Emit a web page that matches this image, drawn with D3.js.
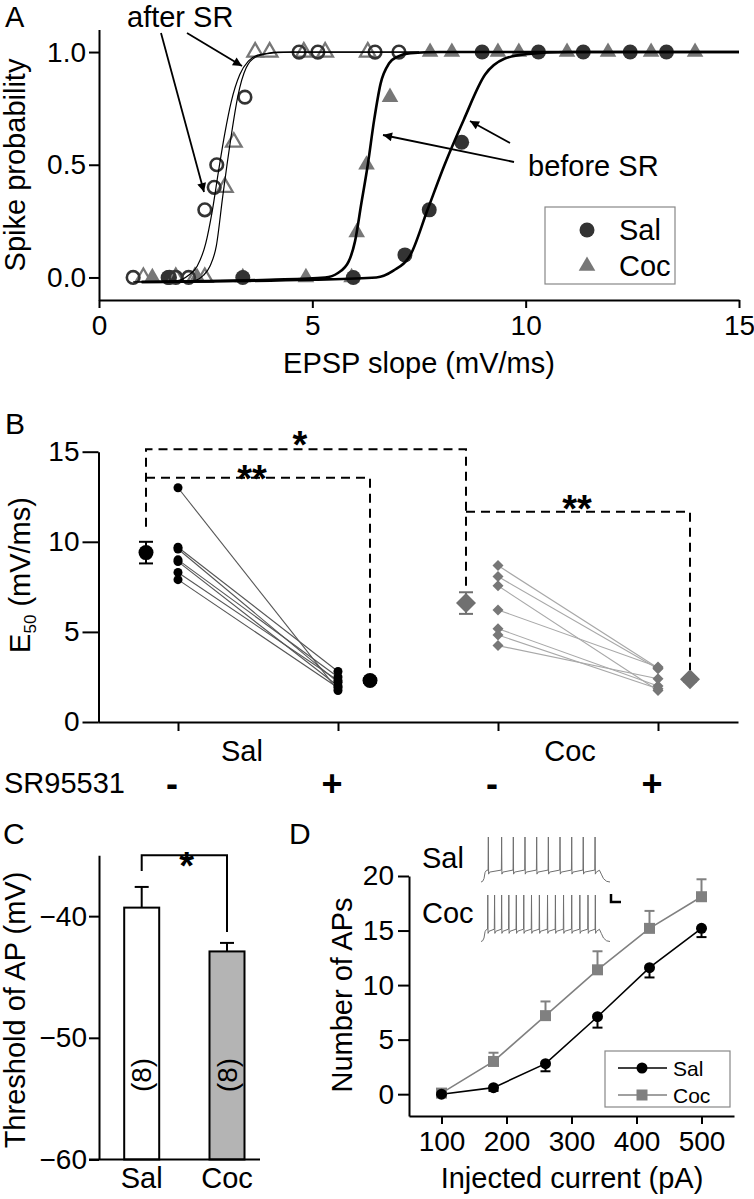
<!DOCTYPE html>
<html><head><meta charset="utf-8">
<script src="https://cdn.jsdelivr.net/npm/d3@7"></script>
<style>body{margin:0;background:#fff}</style>
</head><body>
<svg id="fig" width="754" height="1199"></svg>
<script>
// ---------------- DATA ----------------
// Panel A: spike probability vs EPSP slope
const salBeforeX = [1.62, 3.37, 5.96, 7.17, 7.74, 8.5, 8.98, 10.3, 11.35, 12.45, 13.3];
const salBeforeY = [0, 0, 0, 0.1, 0.3, 0.6, 1, 1, 1, 1, 1];
const cocBeforeX = [1.25, 2.3, 3.37, 4.85, 5.92, 6.04, 6.27, 6.82, 7.76, 8.27, 9.35, 9.84, 10.97, 11.93, 12.94, 13.97];
const cocBeforeY = [0, 0, 0, 0, 0, 0.2, 0.5, 0.8, 1, 1, 1, 1, 1, 1, 1, 1];
const salAfterX = [0.8, 1.65, 1.8, 2.1, 2.48, 2.7, 2.76, 3.42, 4.69, 5.13, 6.47, 7.03];
const salAfterY = [0, 0, 0, 0, 0.3, 0.4, 0.5, 0.8, 1, 1, 1, 1];
const cocAfterX = [1.04, 1.8, 2.25, 2.48, 2.95, 3.16, 3.66, 4.0, 4.8, 5.3, 6.3];
const cocAfterY = [0, 0, 0, 0, 0.4, 0.6, 1, 1, 1, 1, 1];
// fitted curves
const fitSalAfterX = [0.8, 1.8, 2.1, 2.3, 2.5, 2.65, 2.8, 2.95, 3.1, 3.3, 3.5, 3.8, 4.5, 7.5];
const fitSalAfterY = [-0.02, -0.015, 0.01, 0.05, 0.15, 0.29, 0.47, 0.64, 0.78, 0.9, 0.96, 0.99, 1.0, 1.0];
const fitCocAfterX = [1.0, 2.2, 2.45, 2.6, 2.75, 2.9, 3.0, 3.1, 3.25, 3.45, 3.7, 4.2, 7.5];
const fitCocAfterY = [-0.02, -0.015, 0.01, 0.05, 0.14, 0.36, 0.5, 0.63, 0.8, 0.93, 0.98, 1.0, 1.0];
const fitCocBeforeX = [1.0, 4.0, 5.3, 5.6, 5.85, 6.0, 6.15, 6.3, 6.45, 6.6, 6.8, 7.0, 7.3, 8.0, 15];
const fitCocBeforeY = [-0.02, -0.01, 0.0, 0.02, 0.07, 0.16, 0.33, 0.5, 0.7, 0.86, 0.95, 0.98, 0.995, 1.0, 1.0];
const fitSalBeforeX = [1.0, 5.0, 6.5, 6.9, 7.3, 7.7, 8.1, 8.55, 9.05, 9.5, 10.0, 11.0, 15];
const fitSalBeforeY = [-0.02, -0.01, 0.0, 0.03, 0.1, 0.3, 0.5, 0.7, 0.9, 0.97, 0.99, 1.0, 1.0];
const ticksAX = [0, 5, 10, 15];
const ticksAY = [0, 0.5, 1.0];

// Panel B: E50 per cell before/after SR95531
const salBeforeB = [13.0, 9.7, 9.6, 9.0, 8.9, 8.3, 7.9];
const salAfterB  = [1.75, 2.8, 2.2, 2.5, 2.0, 2.3, 1.9];
const cocBeforeB = [8.68, 8.07, 7.56, 6.22, 5.18, 4.83, 4.24];
const cocAfterB  = [3.0, 2.95, 1.75, 3.05, 2.0, 1.85, 2.4];
const meanB = [9.4, 2.3, 6.6, 2.37];
const semB  = [0.6, 0.12, 0.6, 0.12];
const groupB = ["Sal", "Coc"];
const drugB = ["-", "+", "-", "+"];
const ticksBY = [0, 5, 10, 15];

// Panel C: AP threshold
const groupsC = ["Sal", "Coc"];
const thrC = [-39.3, -42.9];
const thrSemC = [1.7, 0.7];
const nC = [8, 8];
const ticksCY = [-60, -50, -40];

// Panel D: number of APs vs injected current
const currentD = [100, 180, 260, 340, 420, 500];
const salD = [0.0, 0.6, 2.8, 7.1, 11.6, 15.2];
const salSemD = [0.1, 0.3, 0.7, 1.0, 0.9, 0.8];
const cocD = [0.1, 3.0, 7.2, 11.4, 15.2, 18.1];
const cocSemD = [0.2, 0.8, 1.3, 1.7, 1.6, 1.6];
const ticksDX = [100, 200, 300, 400, 500];
const ticksDY = [0, 5, 10, 15, 20];
// inset example traces: spike times (ms)
const salSpikes = [54, 152, 238, 324, 410, 496, 582, 668, 753, 840];
const cocSpikes = [50, 100, 152, 205, 260, 315, 372, 430, 490, 548, 608, 668, 728, 788, 842];

// ---------------- DRAW ----------------
const F = '"Liberation Sans", Arial, Helvetica, sans-serif';
const FS = 28;   // tick labels / general text
const FT = 29;   // axis titles
const svg = d3.select("#fig");
const defs = svg.append("defs");
defs.append("marker").attr("id", "arr").attr("viewBox", "0 0 10 10")
  .attr("refX", 10).attr("refY", 5).attr("markerWidth", 11).attr("markerHeight", 9)
  .attr("markerUnits", "userSpaceOnUse").attr("orient", "auto")
  .append("path").attr("d", "M0,0 L10,5 L0,10 Z").attr("fill", "#000");

function txt(x, y, s, o = {}) {
  const t = svg.append("text").attr("x", x).attr("y", y).text(s)
    .attr("font-family", F).attr("font-size", o.fs || FS).attr("fill", o.fill || "#000")
    .attr("text-anchor", o.anchor || "start");
  if (o.weight) t.attr("font-weight", o.weight);
  if (o.rot) t.attr("transform", `rotate(${o.rot},${x},${y})`);
  if (o.db) t.attr("dominant-baseline", o.db);
  return t;
}
function styleAxis(g, fs) {
  g.attr("font-size", null).attr("font-family", null);
  g.select(".domain").attr("stroke", "#000").attr("stroke-width", 2);
  g.selectAll(".tick line").attr("stroke", "#000").attr("stroke-width", 2);
  g.selectAll(".tick text").attr("font-size", fs).attr("font-family", F).attr("fill", "#000");
}
const zip = (a, b) => a.map((v, i) => [v, b[i]]);

// ===== Panel A =====
const xA = d3.scaleLinear().domain([0, 15]).range([99, 739]);
const yA = d3.scaleLinear().domain([-0.1, 1.1]).range([300, 29.5]);
styleAxis(svg.append("g").attr("transform", "translate(0,300)")
  .call(d3.axisBottom(xA).tickValues(ticksAX).tickSize(8).tickSizeOuter(0).tickPadding(7)), FS);
styleAxis(svg.append("g").attr("transform", "translate(99,0)")
  .call(d3.axisLeft(yA).tickValues(ticksAY).tickFormat(d3.format(".1f")).tickSize(10).tickSizeOuter(0).tickPadding(3)), FS);
txt(25, 165, "Spike probability", {anchor: "middle", rot: -90, fs: FT});
txt(419, 373, "EPSP slope (mV/ms)", {anchor: "middle", fs: FT});
txt(5, 27, "A", {fs: 29});

const gA = svg.append("g");
const tri = d3.symbol().type(d3.symbolTriangle).size(120);
gA.selectAll(".cb").data(zip(cocBeforeX, cocBeforeY)).join("path")
  .attr("d", tri).attr("transform", d => `translate(${xA(d[0])},${yA(d[1])})`).attr("fill", "#777");
gA.selectAll(".sb").data(zip(salBeforeX, salBeforeY)).join("circle")
  .attr("cx", d => xA(d[0])).attr("cy", d => yA(d[1])).attr("r", 7.5).attr("fill", "#333");
gA.selectAll(".ca").data(zip(cocAfterX, cocAfterY)).join("path")
  .attr("d", d3.symbol().type(d3.symbolTriangle).size(105))
  .attr("transform", d => `translate(${xA(d[0])},${yA(d[1])})`)
  .attr("fill", "none").attr("stroke", "#777").attr("stroke-width", 2.3);
gA.selectAll(".sa").data(zip(salAfterX, salAfterY)).join("circle")
  .attr("cx", d => xA(d[0])).attr("cy", d => yA(d[1])).attr("r", 6.3)
  .attr("fill", "none").attr("stroke", "#333").attr("stroke-width", 2.6);
const lineA = d3.line().x(d => xA(d[0])).y(d => yA(d[1])).curve(d3.curveMonotoneX);
[[fitSalAfterX, fitSalAfterY, 1.2], [fitCocAfterX, fitCocAfterY, 1.2],
 [fitCocBeforeX, fitCocBeforeY, 2.6], [fitSalBeforeX, fitSalBeforeY, 2.6]].forEach(([xs, ys, w]) => {
  gA.append("path").attr("d", lineA(zip(xs, ys))).attr("fill", "none").attr("stroke", "#000").attr("stroke-width", w);
});
txt(127, 27, "after SR", {fs: FT});
txt(528, 176, "before SR", {fs: FT});
[[161, 33, 204, 192], [187, 33, 242, 66], [514, 162, 383, 135], [510, 143, 470, 121]].forEach(a => {
  svg.append("line").attr("x1", a[0]).attr("y1", a[1]).attr("x2", a[2]).attr("y2", a[3])
    .attr("stroke", "#000").attr("stroke-width", 1.8).attr("marker-end", "url(#arr)");
});
svg.append("rect").attr("x", 545).attr("y", 207).attr("width", 130).attr("height", 77)
  .attr("fill", "#fff").attr("stroke", "#888").attr("stroke-width", 1.2);
svg.append("circle").attr("cx", 587).attr("cy", 230).attr("r", 7.5).attr("fill", "#333");
svg.append("path").attr("d", tri).attr("transform", "translate(587,266)").attr("fill", "#777");
txt(619, 240, "Sal", {fs: FT});
txt(619, 276, "Coc", {fs: FT});

// ===== Panel B =====
const xB = d3.scaleLinear().domain([-0.5, 3.5]).range([98, 738]);
const yB = d3.scaleLinear().domain([0, 15]).range([722, 451.7]);
styleAxis(svg.append("g").attr("transform", "translate(0,722)")
  .call(d3.axisBottom(xB).tickValues([0, 1, 2, 3]).tickFormat("").tickSize(9).tickSizeOuter(0)), FS);
styleAxis(svg.append("g").attr("transform", "translate(98.5,0)")
  .call(d3.axisLeft(yB).tickValues(ticksBY).tickSize(16).tickSizeOuter(0).tickPadding(3)), FS);
txt(5, 434, "B", {fs: 30});
const tB = txt(30, 575, "E", {anchor: "middle", rot: -90, fs: FT});
tB.append("tspan").attr("font-size", 17).attr("dy", 6).text("50");
tB.append("tspan").attr("dy", -6).text(" (mV/ms)");
txt(xB(0.4), 761, groupB[0], {anchor: "middle", fs: FT});
txt(xB(2.45), 761, groupB[1], {anchor: "middle", fs: FT});
txt(4, 793, "SR95531", {fs: FT});
drugB.forEach((d, i) => txt(xB(i) - 6, 796, d, {anchor: "middle", fs: 36, weight: "bold"}));

const gB = svg.append("g");
const diamond = h => `M0,${-h}L${h},0L0,${h}L${-h},0Z`;
function pairs(before, after, i0, i1, lineCol, ptCol, isDiamond) {
  before.forEach((b, k) => {
    gB.append("line").attr("x1", xB(i0)).attr("y1", yB(b)).attr("x2", xB(i1)).attr("y2", yB(after[k]))
      .attr("stroke", lineCol).attr("stroke-width", 1.1);
  });
  [[before, i0], [after, i1]].forEach(([arr, i]) => arr.forEach(v => {
    if (isDiamond) gB.append("path").attr("d", diamond(5.5)).attr("transform", `translate(${xB(i)},${yB(v)})`).attr("fill", ptCol);
    else gB.append("circle").attr("cx", xB(i)).attr("cy", yB(v)).attr("r", 4.5).attr("fill", ptCol);
  }));
}
pairs(salBeforeB, salAfterB, 0, 1, "#555", "#000", false);
pairs(cocBeforeB, cocAfterB, 2, 3, "#a8a8a8", "#777", true);
const meanPos = [-0.2, 1.2, 1.8, 3.2];
meanB.forEach((m, i) => {
  const col = i < 2 ? "#000" : "#707070";
  const x = xB(meanPos[i]);
  gB.append("line").attr("x1", x).attr("x2", x).attr("y1", yB(m - semB[i])).attr("y2", yB(m + semB[i])).attr("stroke", col).attr("stroke-width", 2);
  [m - semB[i], m + semB[i]].forEach(v => gB.append("line").attr("x1", x - 7).attr("x2", x + 7).attr("y1", yB(v)).attr("y2", yB(v)).attr("stroke", col).attr("stroke-width", 2));
  if (i < 2) gB.append("circle").attr("cx", x).attr("cy", yB(m)).attr("r", 7.5).attr("fill", col);
  else gB.append("path").attr("d", diamond(10)).attr("transform", `translate(${x},${yB(m)})`).attr("fill", col);
});
const dash = {stroke: "#000", "stroke-width": 2, "stroke-dasharray": "9,6", fill: "none"};
function dpath(d) { const p = gB.append("path").attr("d", d); Object.entries(dash).forEach(([k, v]) => p.attr(k, v)); }
dpath(`M${xB(-0.2)},${yB(10.84)}V${yB(15.14)}H${xB(1.8)}V${yB(7.5)}`);
dpath(`M${xB(-0.2)},${yB(13.56)}H${xB(1.2)}V${yB(2.79)}`);
dpath(`M${xB(1.8)},${yB(11.67)}H${xB(3.2)}V${yB(2.88)}`);
txt(300, 458, "*", {anchor: "middle", fs: 38, weight: "bold"});
txt(252, 492, "**", {anchor: "middle", fs: 38, weight: "bold"});
txt(577, 522, "**", {anchor: "middle", fs: 38, weight: "bold"});

// ===== Panel C =====
const yC = d3.scaleLinear().domain([-60, -35]).range([1159.5, 855.3]);
const xC = d3.scalePoint().domain(groupsC).range([141.7, 227]);
const gC = svg.append("g");
const bw = 35;
groupsC.forEach((g, i) => {
  const cx = xC(g);
  gC.append("line").attr("x1", cx).attr("x2", cx).attr("y1", yC(thrC[i])).attr("y2", yC(thrC[i] + thrSemC[i])).attr("stroke", "#000").attr("stroke-width", 2);
  gC.append("line").attr("x1", cx - 7).attr("x2", cx + 7).attr("y1", yC(thrC[i] + thrSemC[i])).attr("y2", yC(thrC[i] + thrSemC[i])).attr("stroke", "#000").attr("stroke-width", 2);
  gC.append("rect").attr("x", cx - bw / 2).attr("width", bw).attr("y", yC(thrC[i])).attr("height", yC(-60) - yC(thrC[i]))
    .attr("fill", i === 0 ? "#fff" : "#b4b4b4").attr("stroke", "#000").attr("stroke-width", 2);
  txt(cx, 1075, `(${nC[i]})`, {anchor: "middle", rot: -90, db: "central"});
  txt(cx, 1188, g, {anchor: "middle", fs: FT});
});
styleAxis(svg.append("g").attr("transform", "translate(99,0)")
  .call(d3.axisLeft(yC).tickValues(ticksCY).tickSize(10).tickSizeOuter(0).tickPadding(2)), FS);
svg.append("line").attr("x1", 89).attr("x2", 260).attr("y1", yC(-60)).attr("y2", yC(-60)).attr("stroke", "#000").attr("stroke-width", 2);
gC.append("path").attr("d", `M${xC("Sal")},${yC(-36.3)}V${yC(-35.0)}H${xC("Coc")}V${yC(-41.3)}`)
  .attr("fill", "none").attr("stroke", "#000").attr("stroke-width", 2);
txt(186.7, 879, "*", {anchor: "middle", fs: 38, weight: "bold"});
txt(25, 1010, "Threshold of AP (mV)", {anchor: "middle", rot: -90, fs: FT});
txt(3, 844, "C", {fs: 30});

// ===== Panel D =====
const xD = d3.scaleLinear().domain([50, 550]).range([409, 734]);
const yD = d3.scaleLinear().domain([-2, 20]).range([1116, 876]);
styleAxis(svg.append("g").attr("transform", "translate(0,1116)")
  .call(d3.axisBottom(xD).tickValues(ticksDX).tickSize(8).tickSizeOuter(0).tickPadding(7)), FS);
styleAxis(svg.append("g").attr("transform", "translate(409,0)")
  .call(d3.axisLeft(yD).tickValues(ticksDY).tickSize(11).tickSizeOuter(0).tickPadding(4)), FS);
txt(572, 1188, "Injected current (pA)", {anchor: "middle", fs: FT});
txt(352, 995, "Number of APs", {anchor: "middle", rot: -90, fs: FT});
txt(289, 844, "D", {fs: 30});
const gD = svg.append("g");
const lineD = d3.line().x(d => xD(d[0])).y(d => yD(d[1]));
currentD.forEach((c, i) => {
  const x = xD(c);
  gD.append("line").attr("x1", x).attr("x2", x).attr("y1", yD(cocD[i])).attr("y2", yD(cocD[i] + cocSemD[i])).attr("stroke", "#808080").attr("stroke-width", 2);
  gD.append("line").attr("x1", x - 5).attr("x2", x + 5).attr("y1", yD(cocD[i] + cocSemD[i])).attr("y2", yD(cocD[i] + cocSemD[i])).attr("stroke", "#808080").attr("stroke-width", 2);
  gD.append("line").attr("x1", x).attr("x2", x).attr("y1", yD(salD[i])).attr("y2", yD(salD[i] - salSemD[i])).attr("stroke", "#000").attr("stroke-width", 2);
  gD.append("line").attr("x1", x - 5).attr("x2", x + 5).attr("y1", yD(salD[i] - salSemD[i])).attr("y2", yD(salD[i] - salSemD[i])).attr("stroke", "#000").attr("stroke-width", 2);
});
gD.append("path").attr("d", lineD(zip(currentD, cocD))).attr("fill", "none").attr("stroke", "#808080").attr("stroke-width", 1.6);
gD.append("path").attr("d", lineD(zip(currentD, salD))).attr("fill", "none").attr("stroke", "#000").attr("stroke-width", 1.6);
currentD.forEach((c, i) => {
  gD.append("rect").attr("x", xD(c) - 5.5).attr("y", yD(cocD[i]) - 5.5).attr("width", 11).attr("height", 11).attr("fill", "#808080");
  gD.append("circle").attr("cx", xD(c)).attr("cy", yD(salD[i])).attr("r", 5.5).attr("fill", "#000");
});
svg.append("rect").attr("x", 605).attr("y", 1051).attr("width", 125).attr("height", 56)
  .attr("fill", "#fff").attr("stroke", "#888").attr("stroke-width", 1.2);
svg.append("line").attr("x1", 618).attr("x2", 667).attr("y1", 1068).attr("y2", 1068).attr("stroke", "#000").attr("stroke-width", 1.6);
svg.append("circle").attr("cx", 642).attr("cy", 1068).attr("r", 5.5).attr("fill", "#000");
svg.append("line").attr("x1", 618).attr("x2", 667).attr("y1", 1095).attr("y2", 1095).attr("stroke", "#808080").attr("stroke-width", 1.6);
svg.append("rect").attr("x", 636.5).attr("y", 1089.5).attr("width", 11).attr("height", 11).attr("fill", "#808080");
txt(673, 1076, "Sal", {fs: 21});
txt(673, 1103, "Coc", {fs: 21});
const tI = d3.scaleLinear().domain([0, 950]).range([481, 610]);
function trace(spikes, yFoot, yPeak) {
  const v = d3.scaleLinear().domain([0, 40]).range([yFoot, yPeak]);
  const pts = [[0, 0], [12, 0.6], [22, 3], [30, 8.5], [40, 10.3]];
  spikes.forEach(s => { pts.push([s - 2, 10.6], [s, 40], [s + 2, 7], [s + 9, 8.8]); });
  pts.push([872, 10.5], [886, 7], [902, 3], [925, 0.6], [950, 0]);
  svg.append("path").attr("d", d3.line().x(d => tI(d[0])).y(d => v(d[1]))(pts))
    .attr("fill", "none").attr("stroke", "#6f6f6f").attr("stroke-width", 1);
}
trace(salSpikes, 882, 837);
trace(cocSpikes, 941.5, 895);
svg.append("path").attr("d", "M611,894V902H621").attr("fill", "none").attr("stroke", "#000").attr("stroke-width", 2.5);
txt(422, 868, "Sal", {fs: FT});
txt(422, 923, "Coc", {fs: FT});
</script>
</body></html>
